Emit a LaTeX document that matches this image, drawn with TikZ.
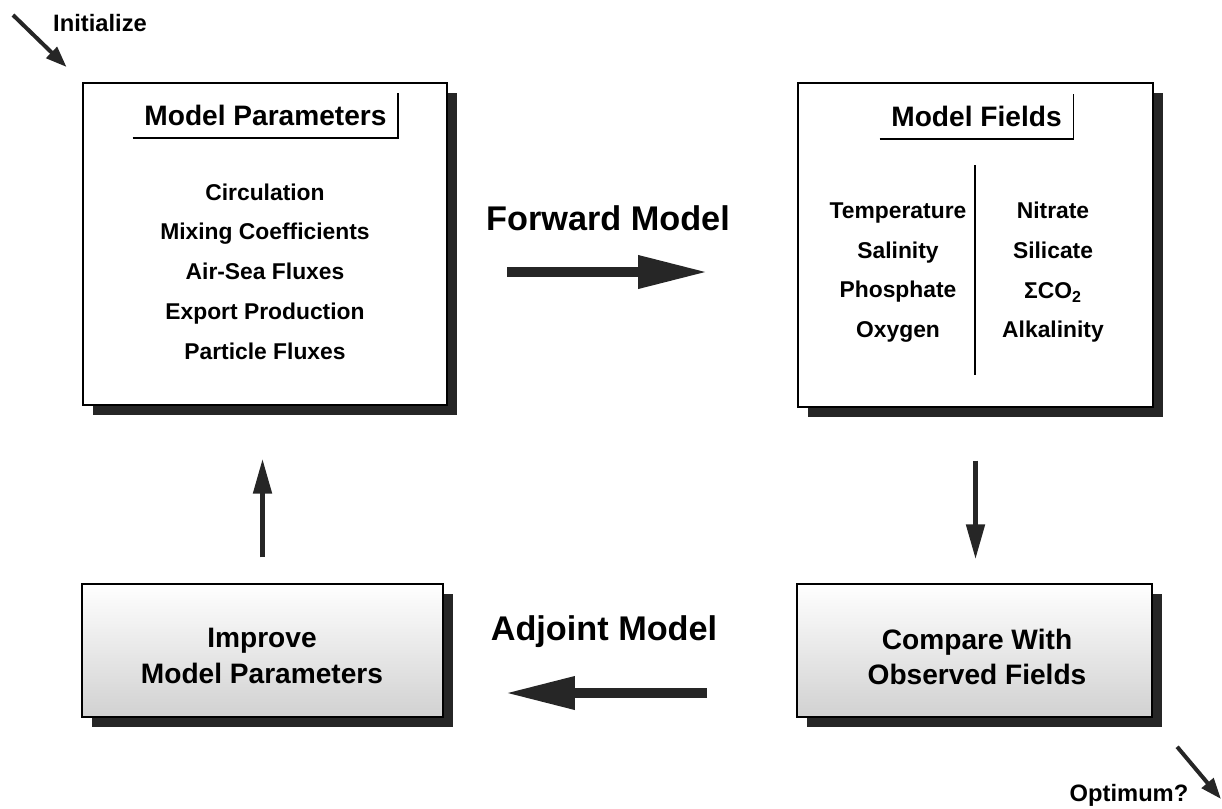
\documentclass[tikz,border=0pt]{standalone}
\usepackage{fontspec}
\setmainfont{Liberation Sans}
\usetikzlibrary{arrows.meta,shadows}
\begin{document}
\begin{tikzpicture}[x=0.02cm, y=-0.02cm,
    box/.style={draw, line width=0.8pt, fill=white, inner sep=0pt,
        drop shadow={shadow xshift=0.2cm, shadow yshift=-0.2cm, fill=black!85, opacity=1}},
    graybox/.style={box, top color=white, bottom color=black!18},
    boxtext/.style={align=center, font=\bfseries\fontsize{16}{20.4}\selectfont},
    title/.style={font=\bfseries\fontsize{16}{19}\selectfont, inner xsep=0.23cm, inner ysep=0pt, minimum height=0.9cm},
    bracket/.style={line width=1.1pt},
    items/.style={align=center, font=\bfseries\fontsize{13}{22.6}\selectfont},
    biglabel/.style={font=\bfseries\fontsize{19.5}{23}\selectfont},
    smalllabel/.style={font=\bfseries\fontsize{13.5}{16}\selectfont},
    thickarrow/.style={line width=0.2cm, -{Triangle[length=1.4cm, width=0.62cm]}, black!85},
    thinarrow/.style={line width=0.1cm, -{Triangle[length=0.7cm, width=0.36cm]}, black!85},
    diagarrow/.style={line width=0.08cm, -{Triangle[length=0.42cm, width=0.3cm]}, black!85}]
        \useasboundingbox (0,0) rectangle (1222,808);

        \node[box, minimum width=7.28cm, minimum height=6.44cm] (params) at (265,244) {};
        \node[box, minimum width=7.1cm, minimum height=6.48cm] (fields) at (975.5,245) {};
        \node[graybox, minimum width=7.22cm, minimum height=2.66cm] (improve) at (262.5,650.5) {};
        \node[graybox, minimum width=7.1cm, minimum height=2.66cm] (compare) at (974.5,650.5) {};

        \node[title] (ptitle) at (265.5,115.5) {Model Parameters};
        \node[title] (ftitle) at (976.5,116.5) {Model Fields};
        \draw[bracket] (ptitle.south west) -- (ptitle.south east) -- (ptitle.north east);
        \draw[bracket] (ftitle.south west) -- (ftitle.south east) -- (ftitle.north east);

        \node[items] (plist) at (265,271.5) {Circulation\\Mixing Coefficients\\Air-Sea Fluxes\\Export Production\\Particle Fluxes};
        \node[items] (flistl) at (898,272.5) {Temperature\\Salinity\\Phosphate\\Oxygen};
        \node[items] (flistr) at (1053,272.5) {Nitrate\\Silicate\\ΣCO\textsubscript{2}\\Alkalinity};
        \draw[line width=0.6pt] (975,165) -- (975,375);

        \node[boxtext] (improvetext) at (262,656) {Improve\\Model Parameters};
        \node[boxtext] (comparetext) at (977,657) {Compare With\\Observed Fields};

        \node[biglabel] (fwdlabel) at (608,218) {Forward Model};
        \node[biglabel] (adjlabel) at (604,632) {Adjoint Model};
        \node[smalllabel] (initlabel) at (100,23) {Initialize};
        \node[smalllabel] (optlabel) at (1129,795) {Optimum?};

        \coordinate (fwda) at (507,272);
        \coordinate (fwdb) at (708,272);
        \coordinate (adja) at (707,693);
        \coordinate (adjb) at (505,693);
        \coordinate (initstart) at (13,15);
        \coordinate (optend) at (1221,799);

        \draw[thickarrow] (fwda) -- (fwdb);
        \draw[thickarrow] (adja) -- (adjb);
        \draw[thinarrow, shorten <=0.52cm, shorten >=1.06cm] (improve.north) -- (improve.north |- params.south);
        \draw[thinarrow, shorten <=1.06cm, shorten >=0.48cm] (fields.south) -- (fields.south |- compare.north);
        \draw[diagarrow, shorten >=0.44cm] (initstart) -- (params.north west);
        \draw[diagarrow, shorten <=0.76cm] (compare.south east) -- (optend);
    \end{tikzpicture}
\end{document}
